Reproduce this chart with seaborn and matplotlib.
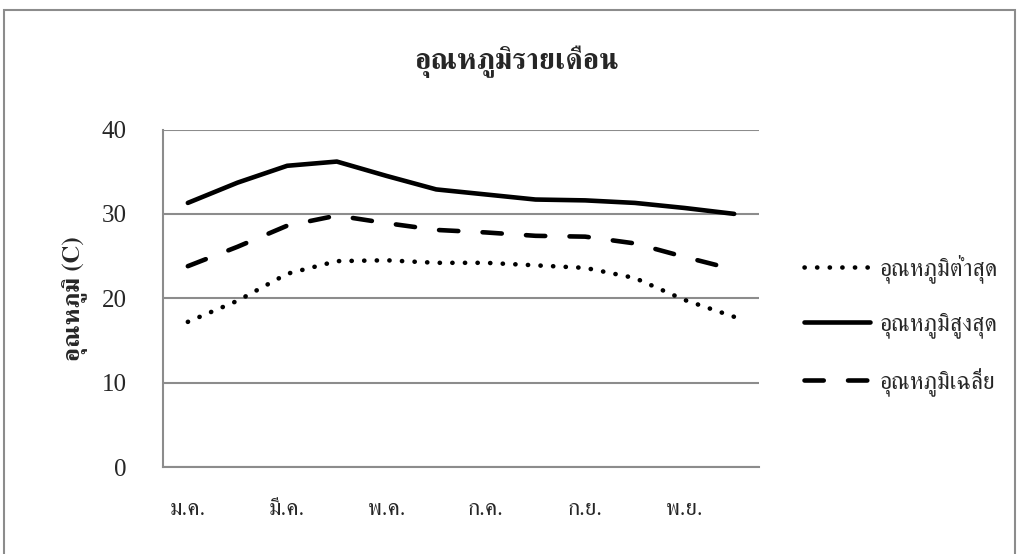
import matplotlib
matplotlib.use("Agg")
import matplotlib.pyplot as plt
import numpy as np
import pandas as pd
import seaborn as sns
from matplotlib import font_manager
from matplotlib.patches import Rectangle

# monthly temperatures (C)
months = ["ม.ค.", "ก.พ.", "มี.ค.", "เม.ย.", "พ.ค.", "มิ.ย.",
          "ก.ค.", "ส.ค.", "ก.ย.", "ต.ค.", "พ.ย.", "ธ.ค."]
temp_min = [17.2, 19.7, 22.9, 24.4, 24.5, 24.2, 24.2, 23.9, 23.6, 22.4, 19.8, 17.8]
temp_max = [31.3, 33.7, 35.7, 36.2, 34.5, 32.9, 32.3, 31.7, 31.6, 31.3, 30.7, 30.0]
temp_avg = [23.8, 26.1, 28.6, 29.8, 28.9, 28.1, 27.8, 27.4, 27.3, 26.5, 24.9, 23.4]
series_names = ["อุณหภูมิต่ำสุด", "อุณหภูมิสูงสุด", "อุณหภูมิเฉลี่ย"]
y_ticks = [0, 10, 20, 30, 40]

sns.set_theme(style="white")
# FreeSerif has Thai glyphs that matplotlib places correctly
installed = {f.name for f in font_manager.fontManager.ttflist}
thai = "FreeSerif" if "FreeSerif" in installed else "Loma"
serif = ["Liberation Serif", "DejaVu Serif"]
plt.rcParams["font.family"] = [thai] + serif

df = pd.DataFrame({"month": months * 3,
                   "temp": temp_min + temp_max + temp_avg,
                   "series": [series_names[0]] * 12 + [series_names[1]] * 12 + [series_names[2]] * 12})
df["x"] = list(range(12)) * 3

fig = plt.figure(figsize=(10.19, 5.54), dpi=100)
ax = fig.add_axes([163 / 1019, 1 - 467 / 554, (759 - 163) / 1019, (467 - 129.5) / 554])

sns.lineplot(data=df, x="x", y="temp", hue="series", style="series",
             palette=["black"] * 3,
             dashes={series_names[0]: (0.05, 2.7), series_names[1]: "",
                     series_names[2]: (4.2, 5.3)},
             linewidth=3.3, ax=ax, legend=True)
for ln in ax.get_lines():
    ln.set_solid_capstyle("round")
    ln.set_dash_capstyle("round")

ax.set_xlim(-0.5, 11.5)
ax.set_ylim(0, 40)
ax.set_yticks(y_ticks)
ax.set_yticklabels([str(v) for v in y_ticks], fontfamily=serif, fontsize=18)
ax.set_xticks(range(0, 12, 2))
ax.set_xticklabels(months[::2], fontsize=16.5)
ax.tick_params(axis="x", pad=23, length=0)
ax.tick_params(axis="y", pad=26, length=0)
ax.grid(axis="y", color="#8c8c8c", linewidth=1.5)
ax.set_axisbelow(True)
for side in ["top", "right"]:
    ax.spines[side].set_visible(False)
for side in ["left", "bottom"]:
    ax.spines[side].set_color("#8c8c8c")
    ax.spines[side].set_linewidth(1.5)
ax.set_xlabel("")
ax.set_ylabel("อุณหภูมิ (C)", fontsize=18, fontweight="bold", labelpad=10)

handles, labels = ax.get_legend_handles_labels()
leg = ax.legend(handles, labels, loc="center left", bbox_to_anchor=(1.04, 0.42),
                frameon=False, fontsize=17, handlelength=2.8, labelspacing=1.25,
                handletextpad=0.4)
for h in leg.legend_handles:
    h.set_linewidth(3.3)
    h.set_dash_capstyle("round")
    h.set_solid_capstyle("round")

fig.text(0.507, 0.888, "อุณหภูมิรายเดือน", ha="center", va="center",
         fontsize=21, fontweight="bold")

# chart frame (bottom edge falls outside the picture)
fig.patches.append(Rectangle((4 / 1019, -0.01), 1011 / 1019, 1 - 10 / 554 + 0.01,
                             transform=fig.transFigure, fill=False,
                             edgecolor="#8c8c8c", linewidth=1.5))

fig.savefig("out.png", dpi=100)
